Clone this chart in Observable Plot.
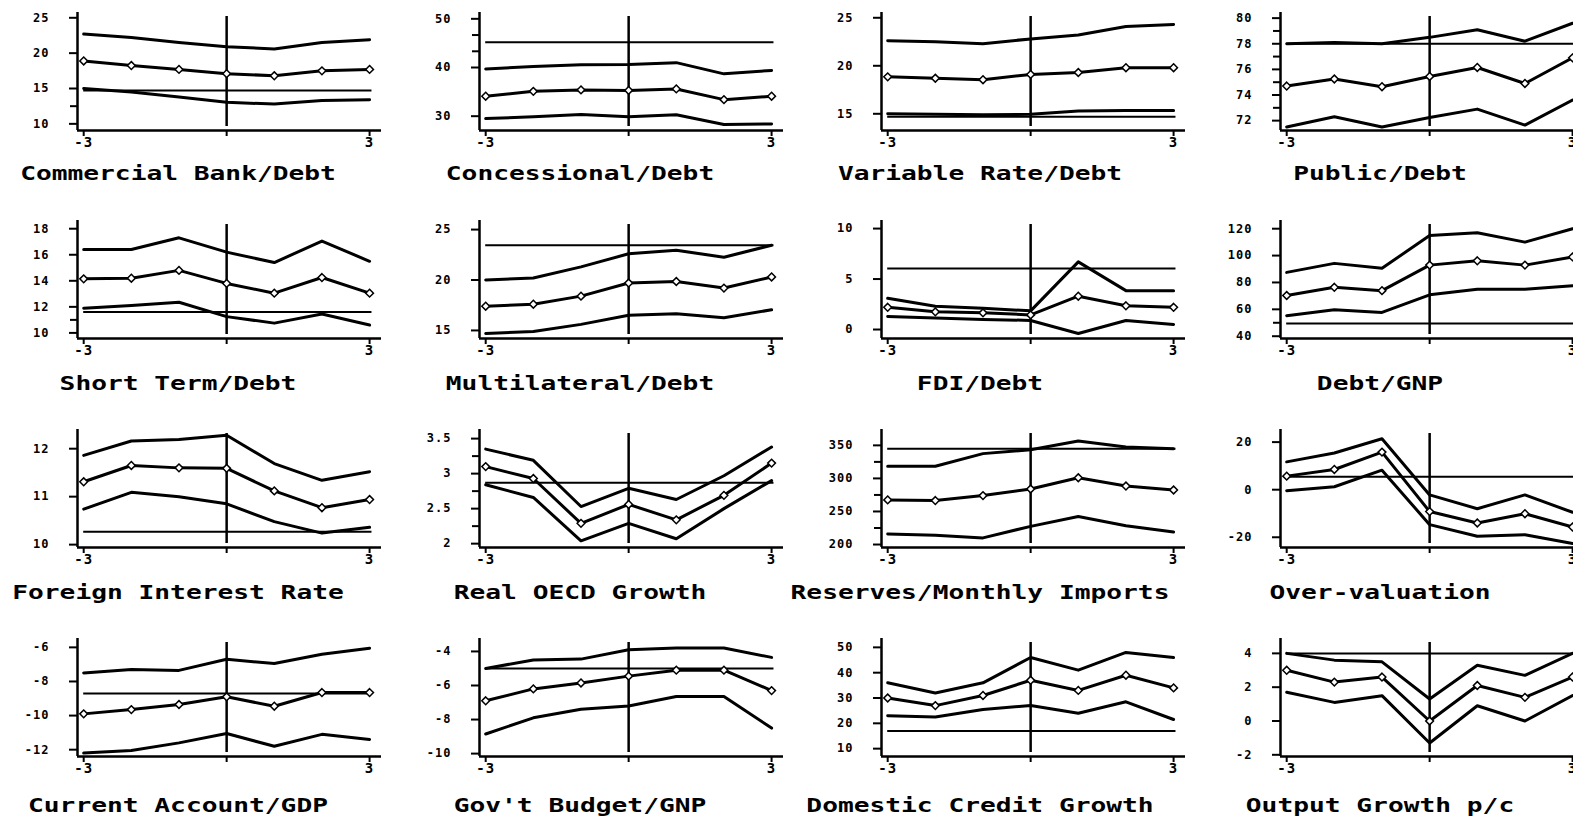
<!DOCTYPE html>
<html><head><meta charset="utf-8">
<script src="https://cdn.jsdelivr.net/npm/d3@7"></script>
<script src="https://cdn.jsdelivr.net/npm/@observablehq/plot@0.6"></script>
<style>
html,body{margin:0;padding:0;background:#fff;overflow:hidden;}
#wrap{position:relative;width:1573px;height:818px;overflow:hidden;background:#fff;}
.panel{position:absolute;}
.title{position:absolute;font-family:"DejaVu Sans Mono",monospace;font-weight:bold;font-size:19px;letter-spacing:0px;white-space:nowrap;transform:translate(-50%,-50%) scaleX(1.38);color:#000;}
</style></head><body><div id="wrap"></div>
<script>
const titles = ["Commercial Bank/Debt","Concessional/Debt","Variable Rate/Debt","Public/Debt",
  "Short Term/Debt","Multilateral/Debt","FDI/Debt","Debt/GNP",
  "Foreign Interest Rate","Real OECD Growth","Reserves/Monthly Imports","Over-valuation",
  "Current Account/GDP","Gov't Budget/GNP","Domestic Credit Growth","Output Growth p/c"];
const xSteps = [-3,-2,-1,0,1,2,3];
const upperLines = [
  [22.7,22.2,21.5,20.9,20.6,21.5,21.9],
  [39.7,40.2,40.55,40.6,41.0,38.7,39.4],
  [22.6,22.5,22.3,22.8,23.2,24.1,24.3],
  [78.0,78.1,78.0,78.5,79.1,78.2,79.6],
  [16.4,16.4,17.3,16.2,15.4,17.05,15.5],
  [20.0,20.2,21.3,22.6,22.95,22.25,23.45],
  [3.1,2.3,2.1,1.85,6.7,3.85,3.85],
  [87.5,94.2,90.5,115,117,110,120],
  [11.86,12.16,12.19,12.28,11.69,11.34,11.52],
  [3.35,3.19,2.53,2.79,2.63,2.97,3.38],
  [318.5,318.5,337.5,343.5,356.5,347.5,345],
  [11.7,15.4,21.4,-2.2,-8.0,-2.2,-9.5],
  [-7.5,-7.3,-7.35,-6.7,-6.95,-6.4,-6.05],
  [-5.0,-4.5,-4.45,-3.9,-3.8,-3.8,-4.35],
  [36,32,36,46,41,48,46],
  [4.0,3.6,3.5,1.3,3.3,2.7,4.0]
];
const middleLines = [
  [18.9,18.25,17.7,17.1,16.8,17.5,17.7],
  [34.1,35.1,35.4,35.3,35.6,33.4,34.1],
  [18.85,18.7,18.55,19.1,19.3,19.8,19.8],
  [74.7,75.25,74.65,75.45,76.15,74.9,76.9],
  [14.15,14.2,14.8,13.8,13.05,14.25,13.05],
  [17.4,17.6,18.4,19.7,19.85,19.2,20.3],
  [2.2,1.75,1.65,1.45,3.3,2.35,2.2],
  [70.3,76.4,73.9,92.9,96.1,92.9,99],
  [11.31,11.65,11.6,11.59,11.12,10.77,10.94],
  [3.1,2.93,2.29,2.56,2.34,2.69,3.15],
  [267.5,266.5,274,284,301,288.5,282.5],
  [5.7,8.5,15.8,-9.2,-14.0,-10.1,-15.7],
  [-9.9,-9.65,-9.35,-8.9,-9.45,-8.65,-8.65],
  [-6.9,-6.2,-5.85,-5.45,-5.1,-5.1,-6.3],
  [30,27,31,37,33,39,34],
  [3.0,2.3,2.6,0.0,2.1,1.4,2.6]
];
const lowerLines = [
  [15.0,14.5,13.8,13.05,12.8,13.3,13.4],
  [29.5,29.9,30.35,29.9,30.3,28.3,28.4],
  [15.0,14.95,14.9,14.95,15.3,15.35,15.35],
  [71.5,72.3,71.5,72.25,72.9,71.65,73.6],
  [11.9,12.1,12.35,11.25,10.75,11.45,10.6],
  [14.7,14.9,15.6,16.5,16.65,16.25,17.05],
  [1.3,1.15,1.0,0.9,-0.4,0.9,0.5],
  [55.3,59.7,57.7,70.8,75,75,77.6],
  [10.74,11.09,11.0,10.85,10.48,10.24,10.36],
  [2.84,2.66,2.04,2.29,2.07,2.5,2.9],
  [216,214,210,227.5,242.5,228.5,219],
  [-0.4,1.25,8.2,-14.7,-19.6,-18.9,-22.6],
  [-12.2,-12.05,-11.6,-11.05,-11.8,-11.1,-11.4],
  [-8.85,-7.9,-7.4,-7.2,-6.65,-6.65,-8.5],
  [23,22.5,25.5,27,24,28.5,21.5],
  [1.7,1.1,1.5,-1.3,0.9,0.0,1.5]
];
const refLevels = [14.7,45.2,14.7,78.0,11.6,23.45,6.05,49.4,10.27,2.87,345,5.4,-8.7,-5.0,17,4.0];
const yDomains = [
  [9.06,25.75],[27.06,51.3],[13.26,25.55],[71.23,80.44],
  [9.57,18.63],[14.2,25.9],[-0.89,10.8],[38.3,126.1],
  [9.94,12.4],[1.945,3.63],[195.5,374],[-24.3,25.3],
  [-12.4,-5.48],[-10.17,-3.24],[6.9,53.5],[-2.1,4.88]
];
const yTicks = [
  [10,15,20,25],[30,40,50],[15,20,25],[72,74,76,78,80],
  [10,12,14,16,18],[15,20,25],[0,5,10],[40,60,80,100,120],
  [10,11,12],[2,2.5,3,3.5],[200,250,300,350],[-20,0,20],
  [-12,-10,-8,-6],[-10,-8,-6,-4],[10,20,30,40,50],[-2,0,2,4]
];
const minorTicks = [
  [12.5],[43.33,46.67],[],[73,75,77,79],
  [11],[],[],[50],
  [],[2.25,2.75,3.25],[225,275,325],[],
  [],[],[],[]
];

// layout
const colLeft = [13,415,817,1216];
const rowTop = [4,212,421,630];
const titleX = [178,580,980,1380];
const titleY = [173,383,592,805];

const wrap = document.getElementById("wrap");
const fmt = d => String(d);

titles.forEach((t, i) => {
  const r = Math.floor(i / 4), c = i % 4;
  const data = xSteps.map((x, j) => ({x, up: upperLines[i][j], mid: middleLines[i][j], lo: lowerLines[i][j]}));
  const [y0, y1] = yDomains[i];
  const svg = Plot.plot({
    width: 400, height: 150,
    marginLeft: 64, marginRight: 32, marginTop: 8, marginBottom: 24,
    x: {domain: [-3.13, 3.25]},
    y: {domain: [y0, y1]},
    style: {fontFamily: "'DejaVu Sans Mono', monospace", fontSize: "12px", fontWeight: "bold", letterSpacing: "1px", background: "transparent", color: "#000", overflow: "visible"},
    marks: [
      Plot.ruleX([-3.13], {strokeWidth: 2.5}),
      Plot.ruleY([y0], {strokeWidth: 2.5}),
      Plot.axisY({ticks: yTicks[i], tickSize: 8, tickPadding: 20, strokeWidth: 2, tickFormat: fmt, label: null}),
      Plot.axisY({ticks: minorTicks[i], tickSize: 7, strokeWidth: 2, tickFormat: () => "", label: null}),
      Plot.axisX({ticks: [-3, 0, 3], tickSize: 6, tickPadding: 1, strokeWidth: 2, tickFormat: d => d === 0 ? "" : fmt(d), label: null, fontSize: 14}),
      Plot.ruleY([refLevels[i]], {x1: -3, x2: 3.05, strokeWidth: 2}),
      Plot.ruleX([0], {insetTop: 4, insetBottom: 4, strokeWidth: 2.5}),
      Plot.line(data, {x: "x", y: "up", strokeWidth: 3}),
      Plot.line(data, {x: "x", y: "mid", strokeWidth: 3}),
      Plot.line(data, {x: "x", y: "lo", strokeWidth: 3}),
      Plot.dot(data, {x: "x", y: "mid", symbol: "diamond2", r: 3.5, fill: "white", stroke: "black", strokeWidth: 1.5})
    ]
  });
  svg.classList.add("panel");
  svg.style.left = colLeft[c] + "px";
  svg.style.top = rowTop[r] + "px";
  wrap.appendChild(svg);
  const d = document.createElement("div");
  d.className = "title";
  d.textContent = t;
  d.style.left = titleX[c] + "px";
  d.style.top = titleY[r] + "px";
  wrap.appendChild(d);
});
</script>
</body></html>
